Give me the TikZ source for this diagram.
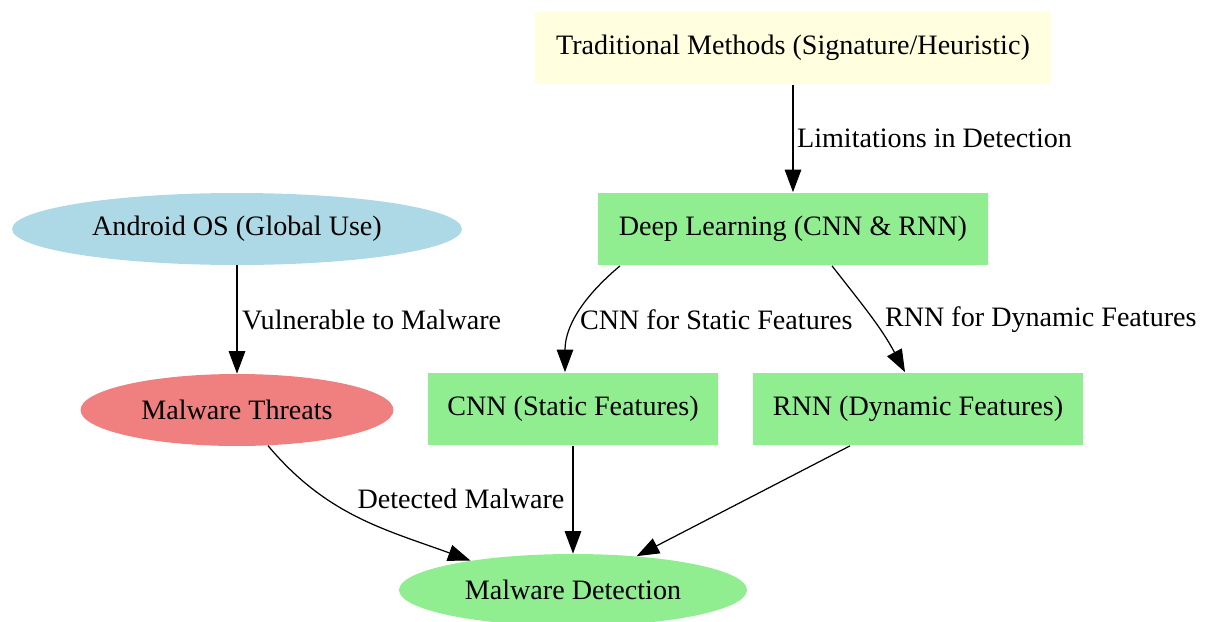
\documentclass[tikz,border=0pt]{standalone}
\usepackage{fontspec}
\setmainfont{Liberation Serif}
\usepackage[svgnames]{xcolor}
\usetikzlibrary{arrows.meta, shapes.geometric, positioning}

\begin{document}
\begin{tikzpicture}[x=0.02cm, y=-0.02cm,
    font=\fontsize{16}{19}\selectfont,
    box/.style={rectangle, inner sep=0pt, minimum height=1.46cm},
    oval/.style={ellipse, inner sep=0pt, minimum height=1.44cm},
    link/.style={-{Triangle[length=0.45cm, width=0.33cm]}, line width=0.7pt},
    lbl/.style={anchor=west, inner sep=1pt}]
    \useasboundingbox (0,0) rectangle (1207,622);

    % nodes
    \node[box, fill=LightYellow, minimum width=10.34cm] (trad) at (793,48) {Traditional Methods (Signature/Heuristic)};
    \node[box, fill=LightGreen, minimum width=7.8cm] (deep) at (793,229) {Deep Learning (CNN \& RNN)};
    \node[oval, fill=LightBlue, minimum width=9cm] (android) at (237,229) {Android OS (Global Use)};
    \node[oval, fill=LightCoral, minimum width=6.26cm] (threats) at (237,410) {Malware Threats};
    \node[box, fill=LightGreen, minimum width=5.8cm] (cnn) at (573,409) {CNN (Static Features)};
    \node[box, fill=LightGreen, minimum width=6.6cm] (rnn) at (918,409) {RNN (Dynamic Features)};
    \node[oval, fill=LightGreen, minimum width=6.96cm] (detect) at (573,590) {Malware Detection};

    % edges
    \draw[link] (trad) -- (deep);
    \draw[link] (android) -- (threats);
    \draw[link] ([xshift=-3.46cm]deep.south) to[out=-140, in=90] ([xshift=-0.16cm]cnn.north);
    \draw[link] ([xshift=0.78cm]deep.south) to[out=-52, in=118] ([xshift=-0.26cm]rnn.north);
    \draw[link] (threats.-49) to[out=-50, in=160] (detect.164);
    \draw[link] (cnn) -- (detect);
    \draw[link] ([xshift=-1.36cm]rnn.south) -- (detect.28);

    % edge labels
    \node[lbl] (limits) at (795,138) {Limitations in Detection};
    \node[lbl] (vuln) at (240,320) {Vulnerable to Malware};
    \node[lbl] (static) at (578,320) {CNN for Static Features};
    \node[lbl] (dynamic) at (883,320) {RNN for Dynamic Features};
    \node (found) at (461,499) {Detected Malware};
\end{tikzpicture}
\end{document}
